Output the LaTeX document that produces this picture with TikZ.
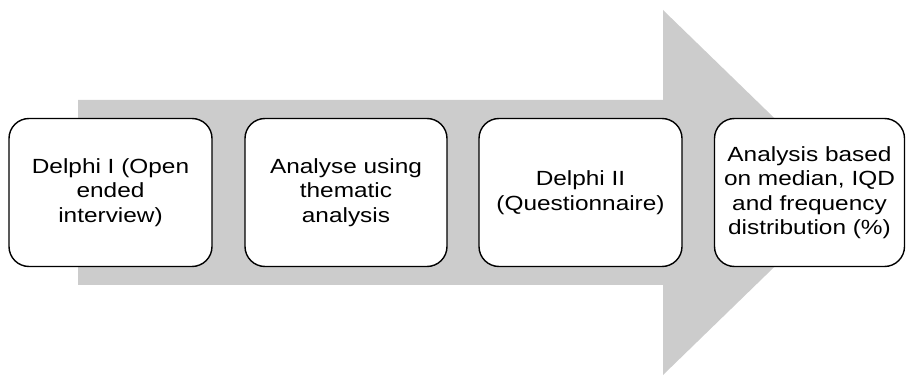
\documentclass[tikz,border=0pt]{standalone}
\usepackage{fontspec}
\setmainfont{Liberation Sans}
\newfontfamily\stagefont[FakeStretch=1.19]{Liberation Sans}
\begin{document}
\begin{tikzpicture}[x=1pt,y=1pt,
  stagebox/.style={draw=black, line width=1.4pt, fill=white, rounded corners=20pt,
    minimum height=148pt, inner sep=0pt, align=center,
    font=\stagefont\fontsize{20.5}{24.5}\selectfont},
]
\useasboundingbox (0,0) rectangle (906,378);
% wide process arrow in the background
\fill[fill={rgb,255:red,204;green,204;blue,204}]
  (78,278) -- (663,278) -- (663,368) -- (851,185.5) -- (663,3)
  -- (663,93) -- (78,93) -- cycle;
% stages
\node[stagebox, minimum width=203pt] (d1) at (110.5,185.5) {Delphi I (Open\\ended\\interview)};
\node[stagebox, minimum width=202pt] (an) at (346,185.5) {Analyse using\\thematic\\analysis};
\node[stagebox, minimum width=203pt] (d2) at (580.5,185.5) {Delphi II\\(Questionnaire)};
\node[stagebox, minimum width=190pt] (res) at (809.5,185.5) {Analysis based\\on median, IQD\\and frequency\\distribution (\%)};
\end{tikzpicture}
\end{document}
